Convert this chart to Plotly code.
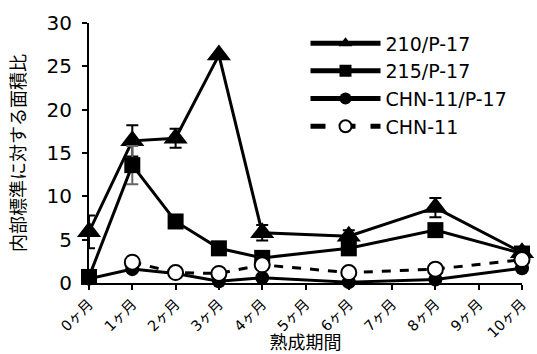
import plotly.graph_objects as go

# Ripening months on the x axis
months = [0, 1, 2, 3, 4, 6, 8, 10]
tick_vals = list(range(11))
tick_text = [f"{m}ヶ月" for m in tick_vals]

# Area ratio to internal standard for each strain
s210 = [5.9, 16.4, 16.7, 26.3, 5.8, 5.4, 8.7, 3.5]
s210_err = [1.9, 1.8, 1.1, 0.0, 0.9, 0.7, 1.1, 0.3]
s215 = [0.7, 13.6, 7.1, 4.0, 2.9, 4.0, 6.1, 3.4]
s215_err = [0.0, 2.2, 0.0, 0.0, 0.0, 0.0, 0.0, 0.0]
chn_p17 = [0.5, 1.6, 1.1, 0.2, 0.6, 0.1, 0.4, 1.7]
chn11 = [None, 2.4, 1.2, 1.1, 2.1, 1.2, 1.6, 2.7]

FONT = "DejaVu Sans, Noto Sans CJK JP"
JP_FONT = "Noto Sans CJK JP"

fig = go.Figure()

fig.add_trace(go.Scatter(
    x=months, y=s210, name="210/P-17", mode="lines+markers",
    line=dict(color="black", width=3),
    marker=dict(symbol="triangle-up", size=21, color="black"),
    error_y=dict(type="data", array=s210_err, visible=True, color="black",
                 thickness=2, width=6),
    cliponaxis=False, legendrank=1,
))
fig.add_trace(go.Scatter(
    x=months, y=chn_p17, name="CHN-11/P-17", mode="lines+markers",
    line=dict(color="black", width=3),
    marker=dict(symbol="circle", size=14, color="black"),
    cliponaxis=False, legendrank=3,
))
fig.add_trace(go.Scatter(
    x=months, y=s215, name="215/P-17", mode="lines+markers",
    line=dict(color="black", width=3),
    marker=dict(symbol="square", size=16, color="black"),
    error_y=dict(type="data", array=s215_err, visible=True, color="#666666",
                 thickness=2, width=6),
    cliponaxis=False, legendrank=2,
))
fig.add_trace(go.Scatter(
    x=months, y=chn11, name="CHN-11", mode="lines+markers",
    line=dict(color="black", width=3, dash="dash"),
    marker=dict(symbol="circle", size=15, color="white",
                line=dict(color="black", width=2)),
    cliponaxis=False, legendrank=4,
))

fig.update_layout(
    width=537, height=354,
    margin=dict(l=89, r=15, t=23, b=71),
    paper_bgcolor="white", plot_bgcolor="white",
    font=dict(family=FONT, color="black"),
    legend=dict(
        x=0.5, y=0.995, xanchor="left", yanchor="top",
        font=dict(size=19, family=FONT),
        bgcolor="rgba(0,0,0,0)", itemwidth=70, itemsizing="constant",
        tracegroupgap=0,
    ),
    xaxis=dict(
        range=[0, 10], tickmode="array", tickvals=tick_vals, ticktext=tick_text,
        tickangle=-45, tickfont=dict(size=14.5),
        showline=True, linecolor="black", linewidth=2,
        ticks="outside", ticklen=5, tickwidth=2, tickcolor="black",
        showgrid=False, zeroline=False, automargin=False,
        title=dict(text="熟成期間", font=dict(size=18, family=JP_FONT), standoff=6),
    ),
    yaxis=dict(
        range=[0, 30], tickvals=[0, 5, 10, 15, 20, 25, 30],
        tickfont=dict(size=20), ticklabelstandoff=6,
        showline=True, linecolor="black", linewidth=2,
        ticks="outside", ticklen=5, tickwidth=2, tickcolor="black",
        showgrid=False, zeroline=False, automargin=False,
        title=dict(text="内部標準に対する面積比", font=dict(size=18, family=JP_FONT), standoff=16),
    ),
)

fig.write_html("out.html")
